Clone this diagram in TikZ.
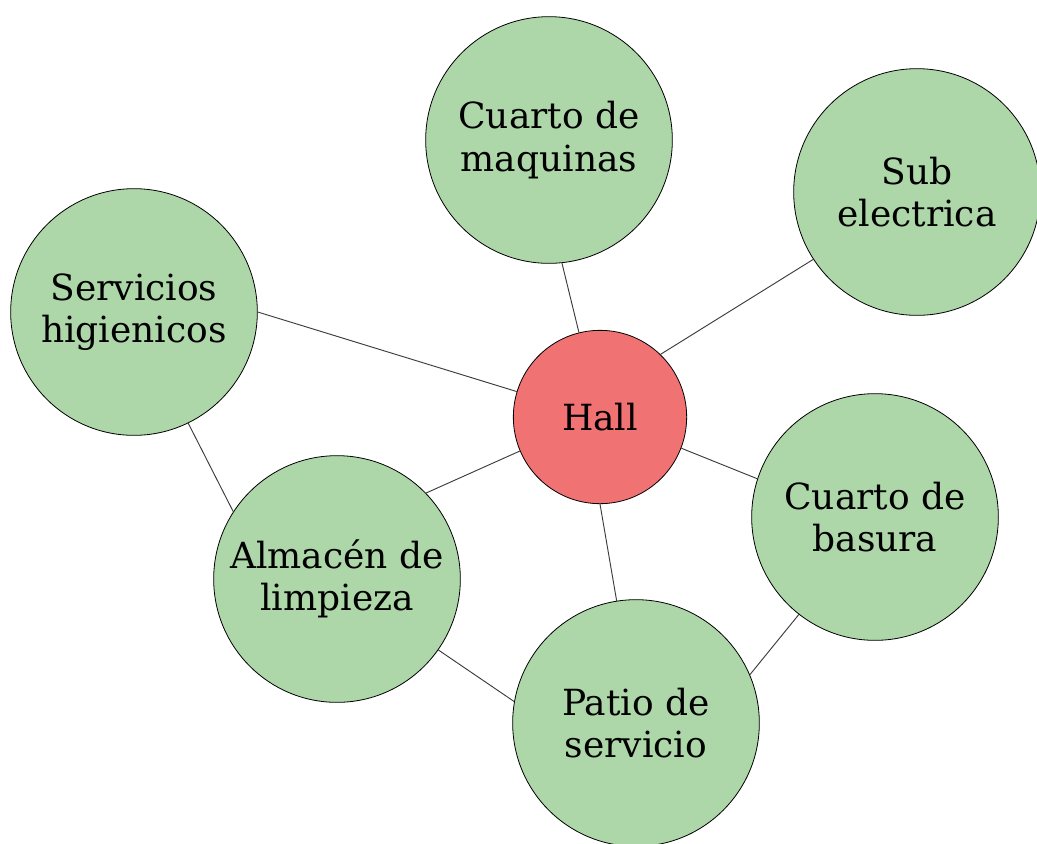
\documentclass[tikz,border=0pt]{standalone}
\usepackage{fontspec}
\setmainfont{DejaVu Serif}
\definecolor{roomgreen}{RGB}{173,215,168}
\definecolor{hallred}{RGB}{240,114,115}
\definecolor{linkgray}{RGB}{60,60,60}
\tikzset{
  room/.style={circle, draw=black, line width=0.6pt, fill=roomgreen, inner sep=0pt,
    minimum size=185pt, align=center, font=\fontsize{27}{32}\selectfont},
  hallroom/.style={room, fill=hallred, minimum size=130pt},
  link/.style={draw=linkgray, line width=0.7pt}
}
\begin{document}
\begin{tikzpicture}[x=0.75pt,y=-0.75pt]
\useasboundingbox (0,0) rectangle (1037,843);
\clip (0,0) rectangle (1037,843);
\fill[white] (0,0) rectangle (1037,843);
\node[hallroom] (hall) at (600,417) {Hall};
\node[room] (maq) at (549,140) {Cuarto de\\maquinas};
\node[room] (sub) at (917,192) {Sub\\electrica};
\node[room] (ser) at (134,312) {Servicios\\higienicos};
\node[room] (bas) at (875,517) {Cuarto de\\basura};
\node[room] (alm) at (337,579) {Almacén de\\limpieza};
\node[room] (pat) at (636,723) {Patio de\\servicio};
\path[link] (hall.104.8) -- (maq.276);
\path[link] (hall.46) -- (sub.213);
\path[link] (hall.163.6) -- (ser.0);
\path[link] (hall.339) -- (bas.162);
\path[link] (hall.203.6) -- (alm.44);
\path[link] (hall.270) -- (pat.99);
\path[link] (ser.296) -- (alm.147.5);
\path[link] (alm.325) -- (pat.170);
\path[link] (bas.232) -- (pat.23);
\end{tikzpicture}
\end{document}
